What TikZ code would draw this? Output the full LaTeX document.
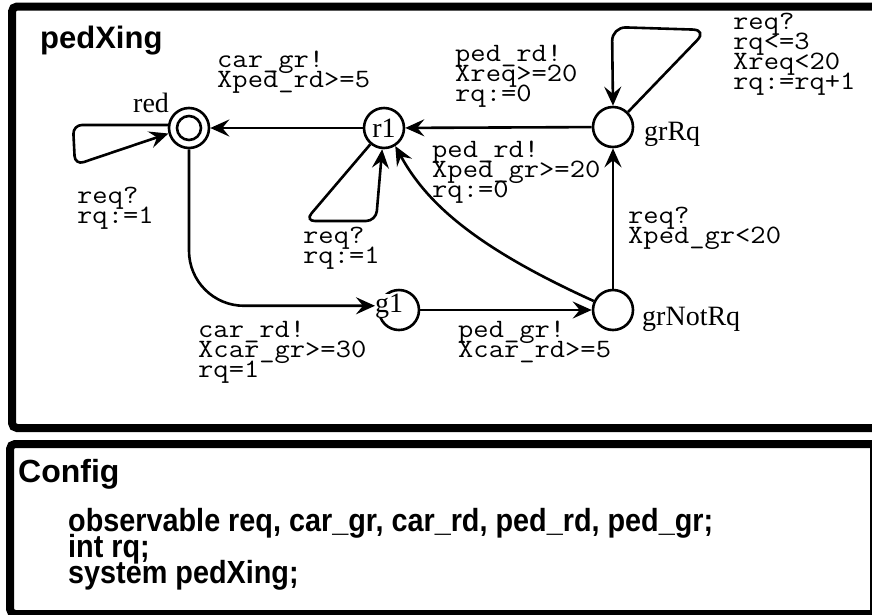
\documentclass[tikz,border=0pt]{standalone}
\usepackage{fontspec}
\usepackage{graphicx}
\setmainfont{Liberation Serif}
\setmonofont{Latin Modern Mono}
\newfontfamily\sansf{Liberation Sans}
\usetikzlibrary{arrows.meta}
\tikzset{
  state/.style={circle, draw, line width=2.6pt, minimum size=40pt, inner sep=0pt},
  edge/.style={line width=2.6pt, -{Stealth[length=19pt,width=17pt,inset=7pt]}},
  monolab/.style={anchor=base west, inner sep=0pt, font=\ttfamily\fontsize{26.5}{26}\selectfont},
  serlab/.style={anchor=base west, inner sep=0pt, font=\fontsize{28}{28}\selectfont},
  frame/.style={line width=8pt, rounded corners=5pt},
  sanslab/.style={anchor=base west, inner sep=0pt, font=\sansf\bfseries\fontsize{31}{31}\selectfont},
  cfglab/.style={anchor=base west, inner sep=0pt, font=\sansf\bfseries\fontsize{32}{32}\selectfont},
}
\newcommand{\edgelab}[4]{\foreach \tx [count=\i from 0] in {#4} {\node[monolab] (#1\i) at (#2, #3+20*\i) {\scalebox{1.12}[1]{\tx}};}}
\begin{document}
\begin{tikzpicture}[x=1pt, y=-1pt]
\useasboundingbox (0,0) rectangle (872,614);
\clip (0,0) rectangle (872,614);
% frames
\draw[frame] (12,6.5) rectangle (890,428);
\draw[frame] (10,444) rectangle (890,614);
\draw[line width=1.5pt] (871,448) -- (871,614);
% title
\node[sanslab] (title) at (40,48) {pedXing};
% states
\node[state] (red) at (189,128) {};
\node[circle, draw, line width=2.6pt, minimum size=24pt, inner sep=0pt] (redin) at (red) {};
\node[state] (r1) at (384,128) {};
\node[state] (grRq) at (613,127) {};
\node[state] (g1) at (399,310) {};
\node[state] (grNotRq) at (613,310) {};
% state names
\node[serlab] (redname) at (133,112) {red};
\node[font=\fontsize{28}{28}\selectfont, inner sep=0pt] (r1name) at (r1) {r1};
\node[serlab] (grRqname) at (644,140) {grRq};
\node[serlab] (grNotRqname) at (642,325) {grNotRq};
\node[serlab, fill=white] (g1name) at (375,312) {g1};
% edges
\draw[edge] (r1) -- (red);
\draw[edge] (grRq) -- (r1);
\draw[edge] (g1) -- (grNotRq);
\draw[edge] (grNotRq) -- (grRq);
\draw[edge, rounded corners=55pt] (red.south) |- (g1name.west);
\draw[edge] (grNotRq.155) .. controls (470,245) and (425,200) .. (r1.-58);
% self loops
\draw[edge, rounded corners=9pt] (red.172) -- (73,125) -- (75,165) -- (red.195);
\draw[edge, rounded corners=10pt] (r1.230) -- (305,221) -- (376,221) -- (r1.-95);
\draw[edge, rounded corners=14pt] (grRq.45) -- (707,30) -- (612,27) -- (grRq.90);
% labels
\edgelab{lA}{217}{67}{car\_gr!,Xped\_rd>=5}
\edgelab{lB}{455}{61}{ped\_rd!,Xreq>=20,rq:=0}
\edgelab{lC}{733}{29}{req?,rq<=3,Xreq<20,rq:=rq+1}
\edgelab{lD}{432}{157}{ped\_rd!,Xped\_gr>=20,rq:=0}
\edgelab{lE}{77}{203}{req?,rq:=1}
\edgelab{lF}{303}{243}{req?,rq:=1}
\edgelab{lG}{628}{223}{req?,Xped\_gr<20}
\edgelab{lH}{458}{337}{ped\_gr!,Xcar\_rd>=5}
\edgelab{lI}{198}{337}{car\_rd!,Xcar\_gr>=30,rq=1}
% config
\node[cfglab] (cfg) at (18,482) {Config};
\node[cfglab] (cfg1) at (68,531) {\scalebox{0.9}[1]{observable req, car\_gr, car\_rd, ped\_rd, ped\_gr;}};
\node[cfglab] (cfg2) at (68,557) {\scalebox{0.9}[1]{int rq;}};
\node[cfglab] (cfg3) at (68,583) {\scalebox{0.9}[1]{system pedXing;}};
\end{tikzpicture}
\end{document}
